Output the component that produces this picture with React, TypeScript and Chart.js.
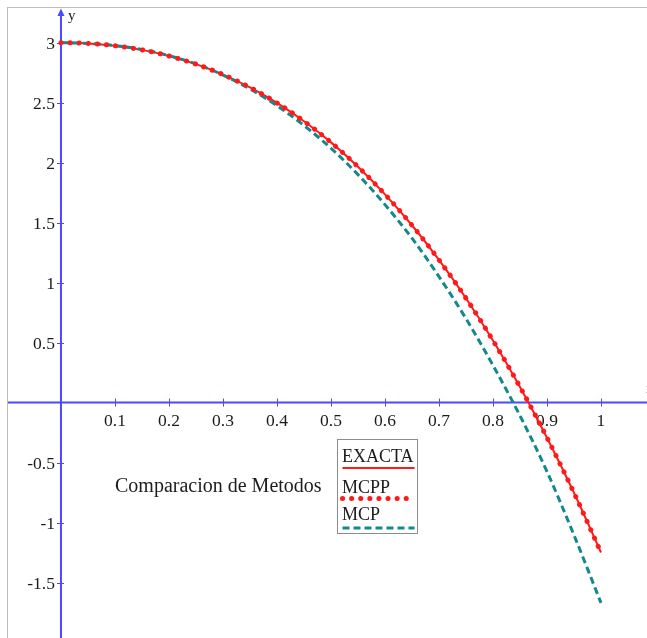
import React, { useEffect, useRef } from 'react';
import { Chart, registerables } from 'chart.js';

Chart.register(...registerables);

// ---- data ----
const xValues = [0, 0.05, 0.1, 0.15, 0.2, 0.25, 0.3, 0.35, 0.4, 0.45, 0.5, 0.55, 0.6, 0.65, 0.7, 0.75, 0.8, 0.85, 0.9, 0.95, 1];
const exactaValues = [3, 2.994, 2.974, 2.94, 2.889, 2.821, 2.734, 2.627, 2.498, 2.345, 2.169, 1.966, 1.736, 1.478, 1.189, 0.87, 0.517, 0.13, -0.293, -0.752, -1.25];
const mcppValues = [3, 2.994, 2.974, 2.94, 2.889, 2.821, 2.734, 2.627, 2.498, 2.345, 2.169, 1.966, 1.736, 1.478, 1.189, 0.87, 0.517, 0.13, -0.293, -0.752, -1.25];
const mcpValues = [3, 2.994, 2.976, 2.943, 2.892, 2.823, 2.73, 2.615, 2.475, 2.31, 2.12, 1.9, 1.65, 1.37, 1.05, 0.7, 0.31, -0.11, -0.575, -1.105, -1.67];

const xTicks = [0.1, 0.2, 0.3, 0.4, 0.5, 0.6, 0.7, 0.8, 0.9, 1];
const xTickLabels = ['0.1', '0.2', '0.3', '0.4', '0.5', '0.6', '0.7', '0.8', '0.9', '1'];
const yTicks = [3, 2.5, 2, 1.5, 1, 0.5, -0.5, -1, -1.5];
const yTickLabels = ['3', '2.5', '2', '1.5', '1', '0.5', '-0.5', '-1', '-1.5'];

const seriesNames = ['EXACTA', 'MCPP', 'MCP'];
const plotTitle = 'Comparacion de Metodos';

const SERIF = '"Liberation Serif", "DejaVu Serif", serif';
const AXIS_BLUE = '#4a4aff';
const RED = '#ff1a1a';
const TEAL = '#14898a';
const TEXT = '#1c1c1c';

const toPoints = (ys: number[]) => xValues.map((x, i) => ({ x, y: ys[i] }));

const mapleAxesPlugin = {
  id: 'mapleAxes',
  beforeDatasetsDraw(chart: any) {
    const { ctx, chartArea, scales } = chart;
    const xs = scales.x;
    const ys = scales.y;
    const x0 = xs.getPixelForValue(0);
    const y0 = ys.getPixelForValue(0);
    ctx.save();
    ctx.strokeStyle = AXIS_BLUE;
    ctx.fillStyle = AXIS_BLUE;
    ctx.lineWidth = 2;
    // x axis
    ctx.beginPath();
    ctx.moveTo(chartArea.left, y0);
    ctx.lineTo(chartArea.right, y0);
    ctx.stroke();
    // y axis
    ctx.beginPath();
    ctx.moveTo(x0, chartArea.top + 6);
    ctx.lineTo(x0, chartArea.bottom);
    ctx.stroke();
    // arrow head
    ctx.beginPath();
    ctx.moveTo(x0, chartArea.top + 0.5);
    ctx.lineTo(x0 - 3.5, chartArea.top + 8);
    ctx.lineTo(x0 + 3.5, chartArea.top + 8);
    ctx.closePath();
    ctx.fill();
    // ticks
    ctx.lineWidth = 1;
    xTicks.forEach((v) => {
      const px = Math.round(xs.getPixelForValue(v)) + 0.5;
      ctx.beginPath();
      ctx.moveTo(px, y0 - 4);
      ctx.lineTo(px, y0 + 4);
      ctx.stroke();
    });
    yTicks.forEach((v) => {
      const py = Math.round(ys.getPixelForValue(v)) + 0.5;
      ctx.beginPath();
      ctx.moveTo(x0 - 4, py);
      ctx.lineTo(x0 + 3, py);
      ctx.stroke();
    });
    // labels
    ctx.fillStyle = TEXT;
    ctx.font = `17.5px ${SERIF}`;
    ctx.textAlign = 'center';
    ctx.textBaseline = 'alphabetic';
    xTicks.forEach((v, i) => {
      ctx.fillText(xTickLabels[i], xs.getPixelForValue(v), y0 + 23);
    });
    ctx.textAlign = 'right';
    ctx.textBaseline = 'middle';
    yTicks.forEach((v, i) => {
      ctx.fillText(yTickLabels[i], x0 - 6, ys.getPixelForValue(v) + 1.5);
    });
    ctx.textAlign = 'left';
    ctx.textBaseline = 'alphabetic';
    ctx.font = `15px ${SERIF}`;
    ctx.fillText('y', x0 + 7, chartArea.top + 12);
    ctx.fillText('x', chartArea.right - 1, y0 - 10);
    ctx.restore();
  },
  afterDraw(chart: any) {
    const { ctx } = chart;
    const ds = chart.data.datasets;
    ctx.save();
    // title
    ctx.fillStyle = TEXT;
    ctx.font = `20px ${SERIF}`;
    ctx.textAlign = 'left';
    ctx.textBaseline = 'alphabetic';
    ctx.fillText(plotTitle, 107, 484);
    // legend box
    const bx = 329.5, by = 431.5, bw = 80, bh = 94;
    ctx.fillStyle = '#ffffff';
    ctx.fillRect(bx, by, bw, bh);
    ctx.strokeStyle = '#8c8c8c';
    ctx.lineWidth = 1;
    ctx.strokeRect(bx, by, bw, bh);
    const rows = [
      { base: 454, line: 460 },
      { base: 485, line: 490.5 },
      { base: 512, line: 520 },
    ];
    ctx.font = `18px ${SERIF}`;
    rows.forEach((r, i) => {
      ctx.fillStyle = TEXT;
      ctx.fillText(seriesNames[i], bx + 4.5, r.base);
      const d = ds[i];
      ctx.save();
      ctx.strokeStyle = d.borderColor;
      ctx.lineWidth = d.borderWidth;
      ctx.lineCap = d.borderCapStyle || 'butt';
      ctx.setLineDash(d.borderDash || []);
      ctx.beginPath();
      ctx.moveTo(bx + 5, r.line);
      ctx.lineTo(bx + 77, r.line);
      ctx.stroke();
      ctx.restore();
    });
    ctx.restore();
  },
};

export default function App() {
  const canvasRef = useRef<HTMLCanvasElement | null>(null);

  useEffect(() => {
    if (!canvasRef.current) return;
    const chart = new Chart(canvasRef.current, {
      type: 'line',
      data: {
        datasets: [
          {
            label: seriesNames[0],
            data: toPoints(exactaValues),
            borderColor: RED,
            borderWidth: 2,
            pointRadius: 0,
            cubicInterpolationMode: 'monotone',
            order: 2,
          },
          {
            label: seriesNames[1],
            data: toPoints(mcppValues),
            borderColor: RED,
            borderWidth: 5,
            borderDash: [0.1, 9],
            borderCapStyle: 'round',
            pointRadius: 0,
            cubicInterpolationMode: 'monotone',
            order: 0,
          },
          {
            label: seriesNames[2],
            data: toPoints(mcpValues),
            borderColor: TEAL,
            borderWidth: 3,
            borderDash: [7, 4],
            pointRadius: 0,
            cubicInterpolationMode: 'monotone',
            order: 1,
          },
        ] as any,
      },
      options: {
        animation: false,
        responsive: false,
        maintainAspectRatio: false,
        layout: { padding: 0 },
        plugins: { legend: { display: false }, tooltip: { enabled: false } },
        scales: {
          x: { type: 'linear', display: false, min: -0.0981, max: 1.0852 },
          y: { type: 'linear', display: false, min: -1.9625, max: 3.289 },
        },
      },
      plugins: [mapleAxesPlugin],
    });
    return () => chart.destroy();
  }, []);

  return (
    <div
      style={{
        position: 'fixed',
        left: 7,
        top: 7,
        width: 640,
        height: 631,
        borderTop: '1px solid #bdbdbd',
        borderLeft: '1px solid #bdbdbd',
        boxSizing: 'border-box',
        background: '#ffffff',
        overflow: 'hidden',
      }}
    >
      <canvas ref={canvasRef} width={639} height={630} style={{ display: 'block' }} />
    </div>
  );
}
